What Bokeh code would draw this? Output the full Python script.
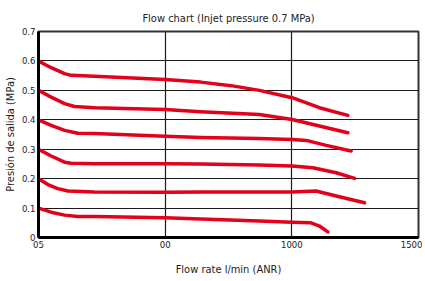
from bokeh.plotting import figure
from bokeh.models import FixedTicker, Range1d
from bokeh.embed import file_html
from bokeh.resources import INLINE

title_text = "Flow chart (Injet pressure 0.7 MPa)"
x_label = "Flow rate l/min (ANR)"
y_label = "Presión de salida (MPa)"

x_ticks = [0, 500, 1000, 1500]
x_tick_labels = {0: "05", 500: "00", 1000: "1000", 1500: "1500"}
y_ticks = [0, 0.1, 0.2, 0.3, 0.4, 0.5, 0.6, 0.7]

c6_x = [0, 50, 103, 129, 221, 500, 640, 760, 872, 1001, 1109, 1221]
c6_y = [0.600, 0.577, 0.557, 0.551, 0.548, 0.537, 0.528, 0.516, 0.500, 0.475, 0.441, 0.415]
c5_x = [0, 50, 103, 142, 221, 500, 640, 872, 1001, 1109, 1221]
c5_y = [0.500, 0.477, 0.455, 0.445, 0.441, 0.435, 0.427, 0.418, 0.401, 0.379, 0.356]
c4_x = [0, 50, 103, 155, 221, 500, 640, 872, 1001, 1057, 1136, 1234]
c4_y = [0.400, 0.381, 0.364, 0.354, 0.353, 0.344, 0.340, 0.336, 0.333, 0.330, 0.313, 0.294]
c3_x = [0, 50, 103, 129, 221, 500, 640, 872, 1001, 1083, 1175, 1248]
c3_y = [0.300, 0.277, 0.256, 0.252, 0.251, 0.251, 0.250, 0.246, 0.243, 0.237, 0.220, 0.201]
c2_x = [0, 37, 76, 116, 221, 500, 640, 1000, 1096, 1175, 1287]
c2_y = [0.200, 0.180, 0.166, 0.158, 0.155, 0.154, 0.155, 0.155, 0.158, 0.141, 0.118]
c1_x = [0, 50, 103, 155, 221, 500, 640, 872, 1001, 1076, 1109, 1142]
c1_y = [0.100, 0.086, 0.076, 0.071, 0.071, 0.067, 0.063, 0.056, 0.052, 0.050, 0.039, 0.019]

curves = [(c6_x, c6_y), (c5_x, c5_y), (c4_x, c4_y), (c3_x, c3_y), (c2_x, c2_y), (c1_x, c1_y)]

FONT = "DejaVu Sans Condensed, Liberation Sans Narrow, Roboto, sans-serif"

p = figure(frame_width=380, frame_height=206, output_backend="svg", toolbar_location=None,
           x_range=Range1d(0, 1500), y_range=Range1d(0, 0.7),
           min_border_left=29, min_border_right=4, min_border_top=31, min_border_bottom=35)
p.title.text = title_text
p.title.align = "center"
p.title.vertical_align = "top"
p.title.text_font = FONT
p.title.text_font_size = "11px"
p.title.text_font_style = "normal"
p.title.text_color = "#222222"

p.xaxis.axis_label = x_label
p.yaxis.axis_label = y_label
for ax in (p.xaxis[0], p.yaxis[0]):
    ax.axis_label_text_font = FONT
    ax.axis_label_text_font_size = "11px"
    ax.axis_label_text_font_style = "normal"
    ax.axis_label_text_color = "#222222"
    ax.major_label_text_font = FONT
    ax.major_label_text_font_size = "9.5px"
    ax.major_label_text_color = "#222222"
    ax.major_tick_out = 0
    ax.major_tick_in = 0
    ax.minor_tick_out = 0
    ax.minor_tick_in = 0
    ax.axis_line_width = 3
    ax.axis_line_color = "#000000"
    ax.major_label_standoff = 3
    ax.axis_label_standoff = 2

p.xaxis.ticker = FixedTicker(ticks=x_ticks)
p.xaxis.major_label_overrides = x_tick_labels
p.yaxis.ticker = FixedTicker(ticks=y_ticks)
p.yaxis.major_label_overrides = {0: "0"}
p.xaxis.axis_label_standoff = 12

p.xgrid.ticker = FixedTicker(ticks=x_ticks)
p.ygrid.ticker = FixedTicker(ticks=y_ticks)
p.grid.grid_line_color = "#1a1a1a"
p.grid.grid_line_width = 1.2
p.outline_line_color = "#333333"
p.outline_line_width = 2

for xs, ys in curves:
    p.line(xs, ys, line_color="#e3001b", line_width=3.5, line_join="round", line_cap="round")

open("out.html", "w").write(file_html(p, INLINE))
